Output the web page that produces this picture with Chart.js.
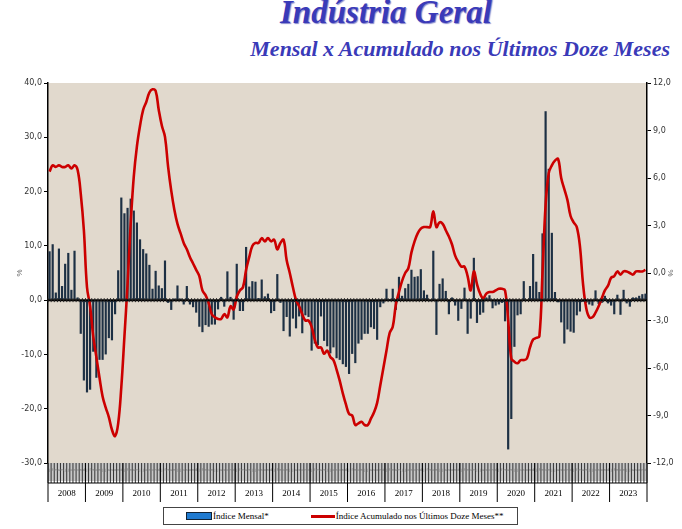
<!DOCTYPE html>
<html><head><meta charset="utf-8">
<script src="https://cdn.jsdelivr.net/npm/chart.js@4/dist/chart.umd.min.js"></script>
<style>
body{margin:0;background:#fff;width:682px;height:529px;position:relative;overflow:hidden;font-family:"Liberation Serif",serif}
#t1{position:absolute;top:-6px;left:280px;font:italic bold 33px "Liberation Serif";color:#3a3ab8;text-shadow:1px 1px 1px #8888cc}
#t2{position:absolute;top:36px;right:12px;font:italic bold 22px "Liberation Serif";color:#3a3ab8}
#box{position:absolute;left:15px;top:72px;width:660px;height:430px}
#leg{position:absolute;left:163px;top:507px;width:353px;height:16px;border:1px solid #444;font:9px "Liberation Serif";display:flex;align-items:center;gap:0}
</style></head><body>
<div id="t1">Indústria Geral</div>
<div id="t2">Mensal x Acumulado nos Últimos Doze Meses</div>
<div id="box"><canvas id="c"></canvas></div>
<div id="leg"><span style="display:inline-block;width:24px;height:6px;background:#1f7ad0;border:1px solid #123;margin-left:22px;margin-right:1px"></span>Índice Mensal*<span style="display:inline-block;width:24px;height:3px;background:#cc0000;margin-left:42px;margin-right:1px"></span>Índice Acumulado nos Últimos Doze Meses**</div>
<script>
const years=["2008","2009","2010","2011","2012","2013","2014","2015","2016","2017","2018","2019","2020","2021","2022","2023"];
const monthNames=["jan","fev","mar","abr","mai","jun","jul","ago","set","out","nov","dez"];
const mensal=[
9,10.3,1.4,9.5,2.6,6.7,8.7,1.9,9.1,0.5,-6.2,-14.8,
-17,-16.5,-9.5,-14.3,-11,-11,-10,-7,-7.4,-2.6,5.5,18.9,
16,17,18.7,16.5,14.3,11.2,9.4,8.6,6.5,2.1,5.4,2.7,
2.2,7.3,-0.5,-1.8,0.3,2.7,0.3,-0.8,2.6,-0.8,-1.3,-2.3,
-4.9,-5.9,-4.6,-4.9,-4.5,-4.5,-1.7,0.6,-1.2,5.3,0.6,-3.6,
6.7,-2,-2,9.8,2.5,3.5,3.4,0.4,3.8,0.7,1.2,-2.4,
-2,4.8,-0.5,-5.7,-3.1,-6.7,-3.4,-5.2,-3,-6.1,-2.8,-3.1,
-9.3,-8,-8.3,-3,-7.5,-8.5,-9.8,-8.7,-10.7,-11,-11.8,-12.3,
-13.6,-9.9,-11.6,-8,-7.3,-6.2,-6.2,-5,-5.3,-7.3,-1.3,-0.6,
2.1,0.2,2.1,-1.8,4.3,0.8,2.2,3,5.6,4.3,4.4,5.7,
1.8,1,-0.2,9.1,-6.4,3,4,1.7,-2.6,0.5,-1,-3.8,
-1.6,2.3,-6.2,-3.4,7.8,-4.2,-2.7,-2.3,0.5,0.9,-1.5,-1,
-0.8,-0.5,-3.9,-27.5,-21.9,-8.6,-2.8,-2.6,3.5,0,2.6,8.5,
3.4,1.5,12.3,34.8,24.2,12.4,1.5,-0.4,-4.1,-8,-5.4,-5.8,
-6,-2.8,-2.1,-0.3,-0.5,-0.8,-1,1.8,-0.7,-0.5,0.8,-0.6,
-1,-2.6,1,-2.7,1.9,-0.6,-1.2,0.5,0.5,0.8,1.1,1.2];
const acumulado=[
6.4,6.8,6.7,6.8,6.7,6.7,6.8,6.6,6.8,6.5,5.0,2.7,
-0.9,-2.1,-4,-5.3,-6.6,-7.8,-8.5,-9.1,-9.9,-10.3,-9.5,-7.2,
-4,-0.7,3.1,6.1,8,9.3,10.3,10.8,11.4,11.6,11.5,10.3,
9.3,8.6,6.7,5.2,4,3.1,2.5,1.9,1.5,1,0.6,0.2,
-0.2,-1.1,-1.4,-1.9,-2.6,-2.8,-2.9,-2.9,-2.6,-2.8,-2.1,-2.3,
-1.5,-1.1,-0.9,0.2,1,1.7,1.9,1.9,2.2,2,2.2,2,
2.1,1.5,1.9,2.1,0.8,0,-0.9,-1.7,-2.1,-2.6,-3,-3,
-3.4,-4.2,-4.7,-4.7,-5.1,-4.9,-5.3,-5.5,-6.1,-6.8,-7.6,-8.3,
-8.9,-9,-9.6,-9.5,-9.4,-9.6,-9.6,-9.2,-8.8,-8.2,-7.1,-6.0,
-4.9,-3.8,-3.4,-2,-1.2,-0.5,0,0.3,1.3,2,2.5,2.8,
2.9,2.9,2.9,3.9,2.9,3.2,3.1,2.7,2.3,1.8,1.1,0.7,
0.4,0.4,-0.2,-1.1,0.1,-0.7,-1.3,-1.6,-1.3,-1.2,-1.2,-1.1,
-1,-1,-1.1,-3,-5.4,-5.6,-5.7,-5.5,-5.5,-5.4,-4.7,-4.2,
-4.1,-4,0,4.3,6.3,6.8,7.1,7.2,6,5.3,4.6,3.6,
3.2,2.9,1.7,-0.7,-2.2,-2.8,-2.8,-2.5,-2.1,-1.6,-1.1,-0.8,
-0.3,-0.2,0.1,-0.1,0.1,0.1,0,-0.1,0.1,0.1,0.1,0.2];
const labels=[];years.forEach(y=>monthNames.forEach(m=>labels.push(m+"/"+y)));
const fmt=v=>v.toFixed(1).replace('.',',');
const deco={id:'deco',
 beforeDraw(c){const a=c.chartArea,x=c.ctx;x.save();x.fillStyle='#e1d9cd';x.fillRect(a.left,a.top,a.right-a.left,a.bottom-a.top);x.restore();},
 afterDatasetsDraw(c){const a=c.chartArea,x=c.ctx,xs=c.scales.x,y0=c.scales.y.getPixelForValue(0);x.save();
  x.strokeStyle='#000';x.lineWidth=2;x.beginPath();x.moveTo(a.left,y0);x.lineTo(a.right,y0);x.stroke();
  x.lineWidth=1;x.strokeStyle='#222';
  for(let i=0;i<labels.length;i++){const px=xs.getPixelForValue(i)-1.5;x.beginPath();x.moveTo(px,y0-2);x.lineTo(px,y0+2);x.stroke();}
  // month tick band
  x.fillStyle='#c8c8c8';x.fillRect(a.left,a.bottom,a.right-a.left,18);
  x.strokeStyle='#333';
  for(let i=0;i<=labels.length;i++){const px=a.left+(a.right-a.left)*i/labels.length;x.beginPath();x.moveTo(px,a.bottom);x.lineTo(px,a.bottom+20);x.stroke();}
  x.fillStyle='#777';x.font='4px sans-serif';x.textAlign='center';
  for(let i=0;i<labels.length;i++){const px=xs.getPixelForValue(i);x.fillText(monthNames[i%12][0],px,a.bottom+8);}
  x.strokeStyle='#000';x.beginPath();x.moveTo(a.left,a.bottom+20);x.lineTo(a.right,a.bottom+20);x.stroke();
  x.font='9px "Liberation Serif"';x.fillStyle='#000';
  years.forEach((yr,k)=>{const l=a.left+(a.right-a.left)*k*12/labels.length,r=a.left+(a.right-a.left)*(k+1)*12/labels.length;
   x.beginPath();x.moveTo(l,a.bottom);x.lineTo(l,a.bottom+39);x.stroke();x.fillText(yr,(l+r)/2,a.bottom+33);});
  x.beginPath();x.moveTo(a.right,a.bottom);x.lineTo(a.right,a.bottom+39);x.stroke();
  x.restore();}};
new Chart(document.getElementById('c'),{
 data:{labels,datasets:[
  {type:'line',label:'Índice Acumulado nos Últimos Doze Meses**',data:acumulado,yAxisID:'y2',borderColor:'#cc0000',borderWidth:2.6,pointRadius:0,tension:0.4,order:0},
  {type:'bar',label:'Índice Mensal*',data:mensal,yAxisID:'y',backgroundColor:'#1d3044',barPercentage:0.7,categoryPercentage:1,order:1}]},
 options:{responsive:true,maintainAspectRatio:false,animation:false,
  layout:{padding:{top:11,bottom:0}},
  plugins:{legend:{display:false},tooltip:{enabled:false}},
  scales:{
   x:{ticks:{display:false},grid:{display:false},border:{display:false},afterFit(s){s.height=39;}},
   y:{position:'left',min:-30,max:40,ticks:{stepSize:10,callback:v=>fmt(v),font:{size:8,family:'DejaVu Sans'},color:'#333',padding:2},
      grid:{drawOnChartArea:false,tickLength:4,color:'#000'},border:{color:'#000',width:1.5},
      title:{display:true,text:'%',font:{size:8},padding:0},afterFit(s){s.width=33;}},
   y2:{position:'right',min:-12,max:12,ticks:{stepSize:3,callback:v=>fmt(v),font:{size:8,family:'DejaVu Sans'},color:'#333',padding:2},
      grid:{drawOnChartArea:false,tickLength:4,color:'#000'},border:{color:'#000',width:1.5},
      title:{display:true,text:'%',font:{size:8},padding:0},afterFit(s){s.width=28;}}}},
 plugins:[deco]});
</script></body></html>
